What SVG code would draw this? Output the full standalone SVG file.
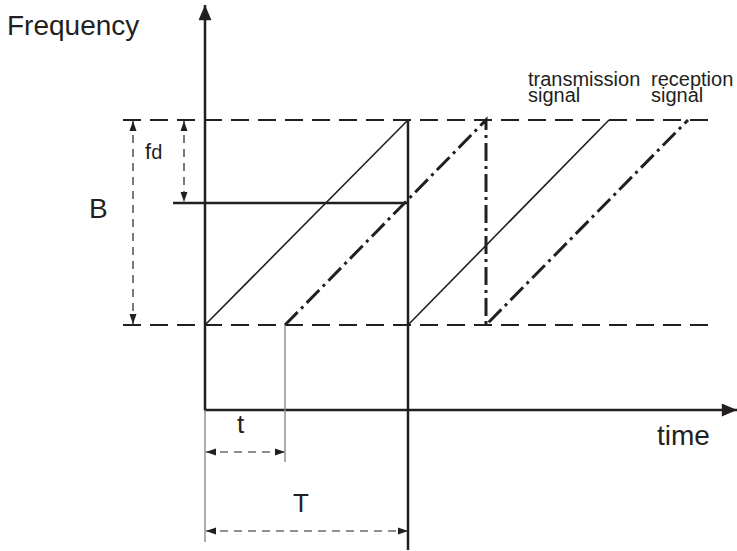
<svg xmlns="http://www.w3.org/2000/svg" width="737" height="551" viewBox="0 0 737 551">
<style>
text{font-family:"Liberation Sans",Arial,sans-serif;fill:#231f20}
.axis{stroke:#231f20;stroke-width:2.5;fill:none}
.dash{stroke:#231f20;stroke-width:2;stroke-dasharray:18 9;fill:none}
.tx{stroke:#231f20;stroke-width:1.6;fill:none}
.rx{stroke:#231f20;stroke-width:3;stroke-dasharray:18 5 3 5;fill:none}
.thin{stroke:#8a8a8a;stroke-width:1.4;fill:none}
.dim{stroke:#231f20;stroke-width:1.2;stroke-dasharray:8 6;fill:none}
.lbl{font-size:20px}
</style>
<defs>
<marker id="ah" viewBox="0 0 10 10" refX="10" refY="5" markerWidth="10" markerHeight="10" markerUnits="userSpaceOnUse" orient="auto-start-reverse">
<path d="M0,1.5 L10,5 L0,8.5 Z" fill="#231f20"/>
</marker>
<marker id="big" viewBox="0 0 14 12" refX="14" refY="6" markerWidth="16" markerHeight="13" markerUnits="userSpaceOnUse" orient="auto">
<path d="M0,0 L14,6 L0,12 Z" fill="#231f20"/>
</marker>
</defs>
<g id="grid">
<line class="dash" x1="123" y1="120" x2="713" y2="120"/>
<line class="dash" x1="123" y1="325" x2="713" y2="325"/>
</g>
<g id="axes">
<line class="axis" x1="205" y1="410" x2="205" y2="5" marker-end="url(#big)"/>
<line class="axis" x1="204" y1="410" x2="737" y2="410" marker-end="url(#big)"/>
<line class="axis" x1="408" y1="120" x2="408" y2="550" stroke-width="2.2"/>
<line class="axis" x1="173" y1="203" x2="408" y2="203" stroke-width="2"/>
</g>
<g id="transmission">
<polyline class="tx" points="205,325 408,120"/>
<polyline class="tx" points="408,325 609,120"/>
</g>
<g id="reception">
<polyline class="rx" points="285,325 486,120 486,325 688,120"/>
</g>
<g id="connectors">
<line class="thin" x1="285" y1="325" x2="285" y2="462"/>
<line class="thin" x1="205" y1="410" x2="205" y2="542"/>
<line class="dim" x1="184" y1="121" x2="184" y2="202" marker-start="url(#ah)" marker-end="url(#ah)"/>
<line class="dim" x1="133" y1="121" x2="133" y2="324" marker-start="url(#ah)" marker-end="url(#ah)"/>
<line class="dim" x1="206" y1="452" x2="285" y2="452" marker-start="url(#ah)" marker-end="url(#ah)"/>
<line class="dim" x1="206" y1="531" x2="408" y2="531" marker-start="url(#ah)" marker-end="url(#ah)"/>
</g>
<g id="labels">
<text x="7" y="35" font-size="28">Frequency</text>
<text x="89" y="218" font-size="28">B</text>
<text x="145" y="159" font-size="22">f<tspan font-size="20">d</tspan></text>
<text x="237" y="433" font-size="26">t</text>
<text x="293" y="512" font-size="26">T</text>
<text x="657" y="445" font-size="28">time</text>
<text class="lbl" x="528" y="86">transmission</text>
<text class="lbl" x="528" y="102">signal</text>
<text class="lbl" x="651" y="86">reception</text>
<text class="lbl" x="651" y="102">signal</text>
</g>
</svg>
